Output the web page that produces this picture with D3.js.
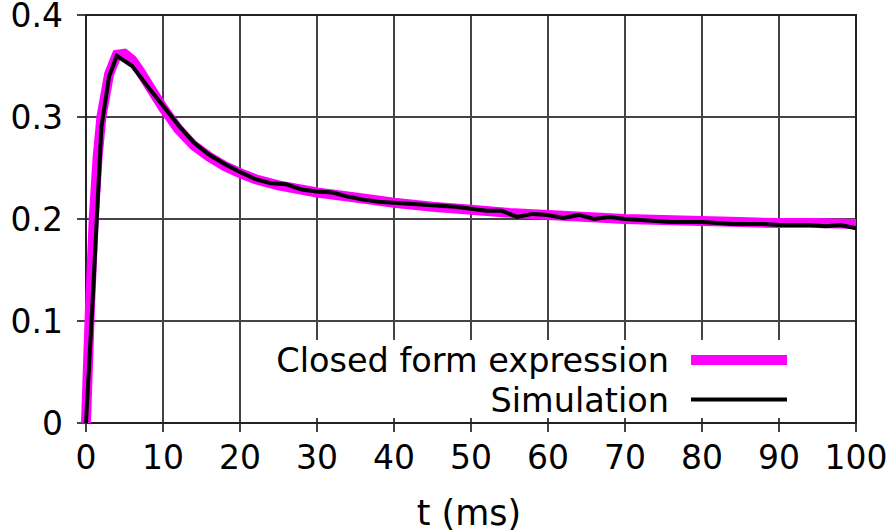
<!DOCTYPE html>
<html>
<head>
<meta charset="utf-8">
<script src="https://cdn.jsdelivr.net/npm/d3@7"></script>
<style>
  html, body { margin: 0; padding: 0; background: #fff; }
  svg text { font-family: "DejaVu Sans", sans-serif; fill: #000; }
</style>
</head>
<body>
<div id="chart"></div>
<script>
// data
const closedT = [0, 0.5, 1, 1.5, 2, 3, 4, 5, 6, 7, 8, 9, 10, 12, 14, 16, 18, 20, 22, 25, 30, 35, 40, 45, 50, 55, 60, 65, 70, 75, 80, 85, 90, 95, 100];
const closedV = [0, 0.11, 0.20, 0.26, 0.30, 0.342, 0.361, 0.362, 0.356, 0.345, 0.333, 0.321, 0.309, 0.288, 0.272, 0.261, 0.252, 0.245, 0.239, 0.233, 0.226, 0.221, 0.216, 0.212, 0.209, 0.206, 0.204, 0.202, 0.200, 0.199, 0.198, 0.197, 0.196, 0.196, 0.195];

const simT = [0, 1, 2, 3, 4, 6, 8, 10, 12, 14, 16, 18, 20, 22, 24, 26, 28, 30, 32, 34, 36, 38, 40, 42, 44, 46, 48, 50, 52, 54, 56, 58, 60, 62, 64, 66, 68, 70, 72, 74, 76, 78, 80, 82, 84, 86, 88, 90, 92, 94, 96, 98, 100];
const simV = [0, 0.14, 0.29, 0.34, 0.36, 0.35, 0.33, 0.311, 0.292, 0.275, 0.263, 0.254, 0.246, 0.239, 0.235, 0.234, 0.229, 0.227, 0.226, 0.222, 0.219, 0.217, 0.216, 0.215, 0.214, 0.213, 0.212, 0.210, 0.208, 0.208, 0.202, 0.205, 0.204, 0.201, 0.204, 0.200, 0.202, 0.200, 0.199, 0.198, 0.197, 0.197, 0.197, 0.196, 0.195, 0.195, 0.195, 0.194, 0.194, 0.194, 0.193, 0.194, 0.191];

const xTicks = [0, 10, 20, 30, 40, 50, 60, 70, 80, 90, 100];
const yTicks = [0, 0.1, 0.2, 0.3, 0.4];
const seriesNames = ["Closed form expression", "Simulation"];

const W = 888, H = 532;
const margin = { left: 86, right: 32, top: 15, bottom: 109 };
const GRID = "#444";
const MAGENTA = "#ff00ff";
const FS = 33;

const svg = d3.select("#chart").append("svg").attr("width", W).attr("height", H);

const x = d3.scaleLinear().domain([0, 100]).range([margin.left, W - margin.right]);
const y = d3.scaleLinear().domain([0, 0.4]).range([H - margin.bottom, margin.top]);

// grid
svg.append("g").selectAll("line").data(xTicks.slice(1, -1)).join("line")
    .attr("x1", d => x(d)).attr("x2", d => x(d))
    .attr("y1", y(0.4)).attr("y2", y(0))
    .attr("stroke", GRID).attr("stroke-width", 2);
svg.append("g").selectAll("line").data(yTicks.slice(1, -1)).join("line")
    .attr("x1", x(0)).attr("x2", x(100))
    .attr("y1", d => y(d)).attr("y2", d => y(d))
    .attr("stroke", GRID).attr("stroke-width", 2);

// legend box covers the grid
svg.append("rect").attr("x", 262).attr("y", 340).attr("width", 578).attr("height", 79).attr("fill", "#fff");

// ticks (bottom ones stick in and out)
svg.append("g").selectAll("line").data(xTicks).join("line")
    .attr("x1", d => x(d)).attr("x2", d => x(d))
    .attr("y1", y(0) - 5).attr("y2", y(0) + 9)
    .attr("stroke", GRID).attr("stroke-width", 2);
svg.append("g").selectAll("line").data(yTicks).join("line")
    .attr("x1", x(0) - 9).attr("x2", x(0) + 5)
    .attr("y1", d => y(d)).attr("y2", d => y(d))
    .attr("stroke", GRID).attr("stroke-width", 2);

// frame
svg.append("rect").attr("x", x(0)).attr("y", y(0.4))
    .attr("width", x(100) - x(0)).attr("height", y(0) - y(0.4))
    .attr("fill", "none").attr("stroke", "#222").attr("stroke-width", 2);

// tick labels
svg.append("g").selectAll("text").data(xTicks).join("text")
    .attr("x", d => x(d)).attr("y", y(0) + 46)
    .attr("text-anchor", "middle").attr("font-size", FS)
    .text(d => d);
svg.append("g").selectAll("text").data(yTicks).join("text")
    .attr("x", 63).attr("y", d => y(d) + 12)
    .attr("text-anchor", "end").attr("font-size", FS)
    .text(d => d === 0 ? "0" : d.toFixed(1));

svg.append("text").attr("x", 469).attr("y", 525)
    .attr("text-anchor", "middle").attr("font-size", 35)
    .text("t (ms)");

// curves
const line = d3.line().x(d => x(d[0])).y(d => y(d[1]));
svg.append("path").datum(d3.zip(closedT, closedV))
    .attr("d", line).attr("fill", "none")
    .attr("stroke", MAGENTA).attr("stroke-width", 10).attr("stroke-linejoin", "miter");
svg.append("path").datum(d3.zip(simT, simV))
    .attr("d", line).attr("fill", "none")
    .attr("stroke", "#000").attr("stroke-width", 4).attr("stroke-linejoin", "miter");

// legend
const legend = svg.append("g");
const legY = [360, 399.5];
const legStyle = [{ c: MAGENTA, w: 10 }, { c: "#000", w: 4 }];
seriesNames.forEach((name, i) => {
    legend.append("text").attr("x", 669).attr("y", legY[i] + 12)
        .attr("text-anchor", "end").attr("font-size", 33.5).text(name);
    legend.append("line").attr("x1", 691).attr("x2", 787)
        .attr("y1", legY[i]).attr("y2", legY[i])
        .attr("stroke", legStyle[i].c).attr("stroke-width", legStyle[i].w);
});
</script>
</body>
</html>
